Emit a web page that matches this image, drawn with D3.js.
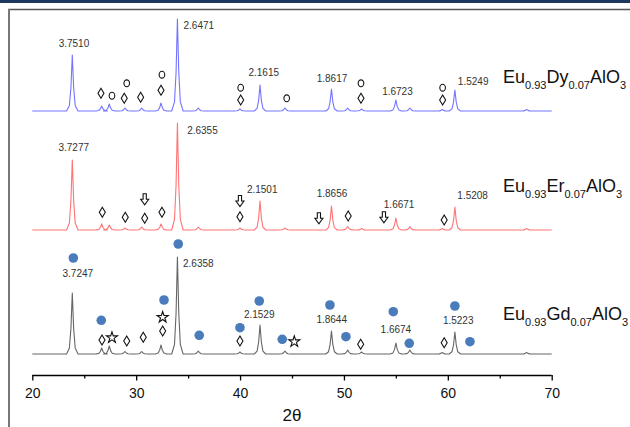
<!DOCTYPE html>
<html>
<head>
<meta charset="utf-8">
<script src="https://cdn.jsdelivr.net/npm/d3@7"></script>
<style>
  body { margin: 0; background: #fff; }
  svg { display: block; font-family: Arial, "Liberation Sans", sans-serif; }
</style>
</head>
<body>
<div id="chart"></div>
<script>
// peak positions (2 theta) shared by the three patterns
var twoTheta = [23.85, 26.68, 27.41, 28.92, 30.53, 32.39, 33.97, 35.98, 39.99, 41.92,
                44.32, 48.80, 50.36, 51.70, 55.00, 56.35, 59.46, 60.68, 67.59];
// peak heights above each pattern's baseline (a.u.)
var dyPeaks = [56, 5, 7, 3, 3, 8, 92, 3, 2, 26, 3, 22, 3, 2, 11, 3, 1.5, 21, 1.5];
var erPeaks = [70, 6, 5, 2, 3, 6, 107, 3, 2, 29, 2, 24, 3.5, 1.5, 12, 3.5, 1.5, 23, 1.5];
var gdPeaks = [61, 6, 8, 2.5, 2.5, 9, 97, 3, 2, 29, 3, 23, 4, 2, 11, 4, 1.5, 22, 1.5];

// d-spacing labels: [text, 2theta, height]
var dyLabels = [["3.7510", 24.01, 64.5], ["2.6471", 36.03, 82], ["2.1615", 42.28, 35],
                ["1.8617", 48.85, 29.3], ["1.6723", 55.15, 16], ["1.5249", 62.44, 26.3]];
var erLabels = [["3.7277", 23.99, 79.3], ["2.6355", 36.38, 96], ["2.1501", 42.13, 36.7],
                ["1.8656", 48.85, 33.3], ["1.6671", 55.31, 21.7], ["1.5208", 62.39, 30.7]];
var gdLabels = [["3.7247", 24.38, 77.3], ["2.6358", 35.98, 87.3], ["2.1529", 41.84, 36.3],
                ["1.8644", 48.82, 31.3], ["1.6674", 55.0, 20.7], ["1.5223", 61.0, 30]];

// phase markers: [kind, 2theta, height]
var dyMarks = [["dia", 26.61, 17.7], ["circ", 27.67, 15.3], ["circ", 29.09, 27.7], ["dia", 28.85, 12.7],
               ["dia", 30.43, 13.7], ["circ", 32.48, 36.3], ["dia", 32.39, 20.7], ["circ", 40.06, 23.3],
               ["dia", 40.06, 11], ["circ", 44.49, 12.7], ["circ", 51.64, 27.7], ["dia", 51.64, 12.7],
               ["circ", 59.50, 23.3], ["dia", 59.50, 11]];
var erMarks = [["dia", 26.74, 17.7], ["dia", 28.95, 12.7], ["arrow", 30.82, 30.7], ["dia", 30.82, 11.7],
               ["dia", 32.48, 17.7], ["arrow", 39.99, 29], ["dia", 39.99, 13.3], ["arrow", 47.59, 11.7],
               ["dia", 50.41, 14], ["arrow", 53.85, 12.7], ["dia", 59.65, 10]];
var gdMarks = [["dot", 23.95, 96], ["dot", 34.05, 110], ["dot", 26.64, 33.7], ["dia", 26.71, 14],
               ["star", 27.67, 16.3], ["dia", 29.09, 13], ["dia", 30.68, 16.7], ["dot", 32.68, 54],
               ["star", 32.55, 36.7], ["dia", 32.55, 23], ["dot", 36.07, 18.7], ["dot", 39.99, 26.3],
               ["dia", 39.99, 13], ["dot", 41.85, 53], ["dot", 44.06, 14.7], ["star", 45.22, 12.3],
               ["dot", 48.65, 49], ["dot", 50.19, 17.3], ["dia", 51.61, 9.7], ["dot", 54.75, 42.3],
               ["dot", 56.29, 10.7], ["dia", 59.65, 11.3], ["dot", 60.68, 48], ["dot", 62.13, 12.3]];

var majorTicks = [20, 30, 40, 50, 60, 70];
var minorTicks = [25, 35, 45, 55, 65];

var series = [
    {name: ["Eu", "0.93", "Dy", "0.07", "AlO", "3"], peaks: dyPeaks, labels: dyLabels, marks: dyMarks,
     offset: 264, color: "#7474ff", nameH: 28},
    {name: ["Eu", "0.93", "Er", "0.07", "AlO", "3"], peaks: erPeaks, labels: erLabels, marks: erMarks,
     offset: 145, color: "#ff7474", nameH: 38},
    {name: ["Eu", "0.93", "Gd", "0.07", "AlO", "3"], peaks: gdPeaks, labels: gdLabels, marks: gdMarks,
     offset: 21, color: "#666", nameH: 34}
];

var width = 630, height = 427;
var svg = d3.select("#chart").append("svg")
    .attr("width", width)
    .attr("height", height);

// frame
svg.append("rect").attr("x", 0).attr("y", 0).attr("width", width).attr("height", 3)
    .attr("fill", "#1d3a5e");
svg.append("line").attr("x1", 8).attr("x2", width).attr("y1", 9.5).attr("y2", 9.5)
    .attr("stroke", "#555").attr("stroke-width", 1.5);
svg.append("line").attr("x1", 9).attr("x2", 9).attr("y1", 9).attr("y2", height)
    .attr("stroke", "#777").attr("stroke-width", 2);

var x = d3.scaleLinear().domain([20, 70]).range([32.3, 551.7]);
var y = d3.scaleLinear().domain([0, 365]).range([375, 10]);

// axis
svg.append("g")
    .attr("transform", "translate(0,375)")
    .call(d3.axisBottom(x).tickValues(minorTicks).tickSize(3.5).tickSizeOuter(0).tickFormat(""))
    .call(function (g) { g.select(".domain").remove(); })
    .selectAll("line").attr("stroke-width", 1.3);

var ax = svg.append("g")
    .attr("transform", "translate(0,375)")
    .call(d3.axisBottom(x).tickValues(majorTicks).tickSize(5.5).tickSizeOuter(0).tickPadding(8));
ax.select(".domain").attr("stroke-width", 1.5).attr("d", "M" + x(20) + ",0.5H" + x(70));
ax.selectAll("line").attr("stroke-width", 1.3);
ax.selectAll("text").attr("font-size", 14).attr("font-family", "Arial, sans-serif").attr("fill", "#111");

svg.append("text")
    .attr("x", 292).attr("y", 421)
    .attr("text-anchor", "middle")
    .attr("font-size", 17)
    .attr("fill", "#111")
    .text("2θ");

// peak profile shape around each listed peak
var shape = [[-0.55, 0], [-0.28, 0.1], [-0.13, 0.42], [0, 1], [0.13, 0.42], [0.28, 0.1], [0.55, 0]];

function tracePoints(s) {
    var pts = [[20, s.offset]];
    twoTheta.forEach(function (t, i) {
        shape.forEach(function (p) {
            pts.push([t + p[0], s.offset + s.peaks[i] * p[1]]);
        });
    });
    pts.push([70, s.offset]);
    return pts;
}

var line = d3.line()
    .x(function (d) { return x(d[0]); })
    .y(function (d) { return y(d[1]); });

var symbols = {
    dia: "M0,-5L3,0L0,5L-3,0Z",
    arrow: "M-1.6,-5.5H1.6V0H4L0,5.5L-4,0H-1.6Z",
    star: d3.symbol().type(d3.symbolStar).size(38)()
};

series.forEach(function (s) {
    var g = svg.append("g");

    g.append("path")
        .datum(tracePoints(s))
        .attr("fill", "none")
        .attr("stroke", s.color)
        .attr("stroke-width", 1.1)
        .attr("stroke-linejoin", "round")
        .attr("d", line);

    g.selectAll("text.d")
        .data(s.labels)
        .enter().append("text")
        .attr("class", "d")
        .attr("x", function (d) { return x(d[1]); })
        .attr("y", function (d) { return y(s.offset + d[2]); })
        .attr("text-anchor", "middle")
        .attr("font-size", 10)
        .attr("fill", "#333")
        .text(function (d) { return d[0]; });

    var m = g.selectAll("g.mark")
        .data(s.marks)
        .enter().append("g")
        .attr("class", "mark")
        .attr("transform", function (d) {
            return "translate(" + x(d[1]) + "," + y(s.offset + d[2]) + ")";
        });

    m.filter(function (d) { return d[0] === "dot"; })
        .append("circle").attr("r", 4.8).attr("fill", "#4a7cbc");
    m.filter(function (d) { return d[0] === "circ"; })
        .append("ellipse").attr("rx", 2.8).attr("ry", 3.4)
        .attr("fill", "#fff").attr("stroke", "#111").attr("stroke-width", 1.1);
    m.filter(function (d) { return symbols[d[0]]; })
        .append("path")
        .attr("d", function (d) { return symbols[d[0]]; })
        .attr("fill", "#fff").attr("stroke", "#111").attr("stroke-width", 1.1);

    var nm = g.append("text")
        .attr("x", 503)
        .attr("y", y(s.offset + s.nameH))
        .attr("font-size", 18)
        .attr("fill", "#111");
    s.name.forEach(function (part, i) {
        var sub = i % 2 === 1;
        nm.append("tspan")
            .attr("font-size", sub ? 11 : 18)
            .attr("dy", i === 0 ? 0 : (sub ? 6 : -6))
            .text(part);
    });
});
</script>
</body>
</html>
